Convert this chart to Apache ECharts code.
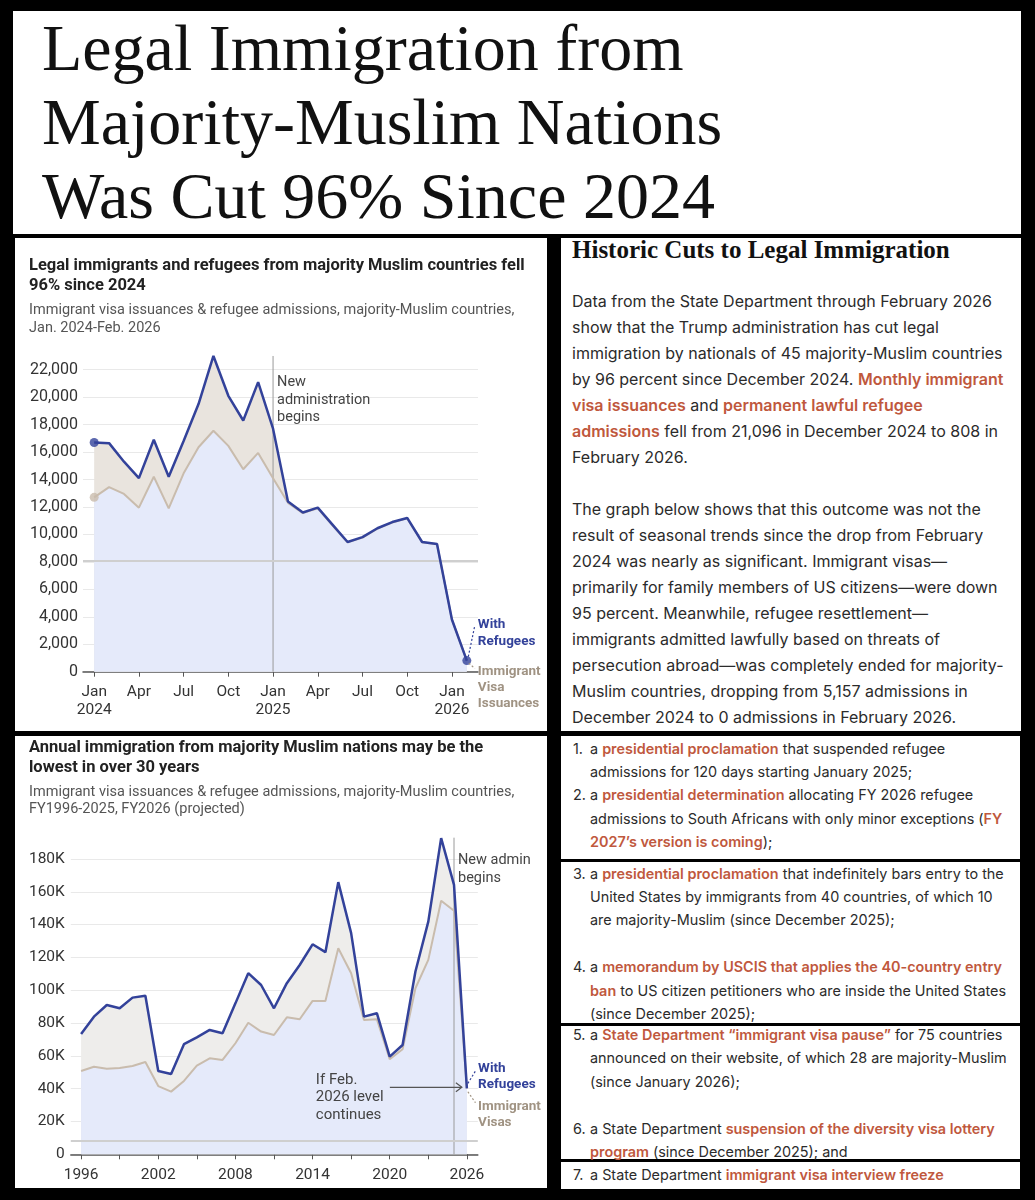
<!DOCTYPE html>
<html>
<head>
<meta charset="utf-8">
<script src="https://cdn.jsdelivr.net/npm/echarts@6.0.0/dist/echarts.min.js"></script>
<style>
  body { margin: 0; background: #000; width: 1035px; height: 1200px; position: relative; overflow: hidden; }
  .panel { position: absolute; background: #fff; }
  .abs { position: absolute; white-space: nowrap; }
  #headline { left: 42px; top: 11px; font-family: "Liberation Serif", serif; font-size: 66px; line-height: 74px; color: #111; }
  #side-h { left: 572px; top: 235px; font-family: "Liberation Serif", serif; font-weight: bold; font-size: 25px; line-height: 30px; color: #111; }
  .body { left: 572px; font-family: Inter, sans-serif; font-size: 16px; line-height: 26px; color: #2b2b2b; }
  .list { left: 573px; font-family: Inter, sans-serif; font-size: 14.4px; line-height: 23.4px; color: #2b2b2b; }
  .row { display: flex; }
  .num { width: 17px; }
  .r { color: #c0583d; font-weight: 600; }
</style>
</head>
<body>
<div class="panel" style="left:13px;top:11px;width:1008px;height:223px"></div>
<div class="panel" style="left:561px;top:238px;width:460px;height:493px"></div>
<div class="panel" style="left:561px;top:736px;width:459px;height:123px"></div>
<div class="panel" style="left:561px;top:862px;width:459px;height:161px"></div>
<div class="panel" style="left:561px;top:1026px;width:459px;height:133px"></div>
<div class="panel" style="left:561px;top:1162px;width:459px;height:27px"></div>
<div id="c1" class="panel" style="left:15px;top:238px;width:532px;height:493px"></div>
<div id="c2" class="panel" style="left:15px;top:736px;width:532px;height:452px"></div>

<div id="headline" class="abs">Legal Immigration from<br>Majority-Muslim Nations<br>Was Cut 96% Since 2024</div>

<div id="side-h" class="abs">Historic Cuts to Legal Immigration</div>
<div class="abs body" style="top:288px">Data from the State Department through February 2026<br>show that the Trump administration has cut legal<br>immigration by nationals of 45 majority-Muslim countries<br>by 96 percent since December 2024. <span class="r">Monthly immigrant</span><br><span class="r">visa issuances</span> and <span class="r">permanent lawful refugee</span><br><span class="r">admissions</span> fell from 21,096 in December 2024 to 808 in<br>February 2026.</div>
<div class="abs body" style="top:496px">The graph below shows that this outcome was not the<br>result of seasonal trends since the drop from February<br>2024 was nearly as significant. Immigrant visas—<br>primarily for family members of US citizens—were down<br>95 percent. Meanwhile, refugee resettlement—<br>immigrants admitted lawfully based on threats of<br>persecution abroad—was completely ended for majority-<br>Muslim countries, dropping from 5,157 admissions in<br>December 2024 to 0 admissions in February 2026.</div>

<div class="abs list" style="top:736.5px">
  <div class="row"><span class="num">1.</span><span>a <span class="r">presidential proclamation</span> that suspended refugee<br>admissions for 120 days starting January 2025;</span></div>
  <div class="row"><span class="num">2.</span><span>a <span class="r">presidential determination</span> allocating FY 2026 refugee<br>admissions to South Africans with only minor exceptions (<span class="r">FY</span><br><span class="r">2027’s version is coming</span>);</span></div>
</div>
<div class="abs list" style="top:861.5px">
  <div class="row"><span class="num">3.</span><span>a <span class="r">presidential proclamation</span> that indefinitely bars entry to the<br>United States by immigrants from 40 countries, of which 10<br>are majority-Muslim (since December 2025);<br>&nbsp;</span></div>
  <div class="row"><span class="num">4.</span><span>a <span class="r">memorandum by USCIS that applies the 40-country entry</span><br><span class="r">ban</span> to US citizen petitioners who are inside the United States<br>(since December 2025);</span></div>
</div>
<div class="abs list" style="top:1023px">
  <div class="row"><span class="num">5.</span><span>a <span class="r">State Department “immigrant visa pause”</span> for 75 countries<br>announced on their website, of which 28 are majority-Muslim<br>(since January 2026);<br>&nbsp;</span></div>
  <div class="row"><span class="num">6.</span><span>a State Department <span class="r">suspension of the diversity visa lottery</span><br><span class="r">program</span> (since December 2025); and</span></div>
</div>
<div class="abs list" style="top:1163px">
  <div class="row"><span class="num">7.</span><span>a State Department <span class="r">immigrant visa interview freeze</span></span></div>
</div>

<script>
// monthly, Jan 2024 .. Feb 2026
const monthTicks = ["Jan", "Apr", "Jul", "Oct"];
const firstYear = 2024;
const monthTickIdx = [0, 3, 6, 9, 12, 15, 18, 21, 24];
const monthlyWithRefugees = [16700, 16650, 15300, 14100, 16900, 14200, 16800, 19500, 23000, 20100, 18300, 21096,
  17700, 12400, 11600, 11950, 10700, 9450, 9800, 10450, 10900, 11200, 9450, 9300, 3800, 808];
const monthlyVisas = [12700, 13450, 12950, 11950, 14200, 11900, 14450, 16350, 17550, 16450, 14750, 15939,
  14100, 12300, 11550, 11900, 10650, 9420, 9770, 10420, 10870, 11170, 9430, 9280, 3790, 808];
const adminMonth = 12;
const adminTop1 = 23000;
const refLine = 8100;

// fiscal years 1996 .. 2026 (2026 projected)
const fyYears = [1996, 1997, 1998, 1999, 2000, 2001, 2002, 2003, 2004, 2005, 2006, 2007, 2008, 2009, 2010,
  2011, 2012, 2013, 2014, 2015, 2016, 2017, 2018, 2019, 2020, 2021, 2022, 2023, 2024, 2025, 2026];
const fyWithRefugees = [73400, 83900, 91000, 89000, 95500, 96600, 50800, 49000, 67100, 71300, 75800, 73800, 92000,
  110400, 103200, 89000, 104300, 115400, 128000, 123200, 165900, 134800, 83900, 86000, 59500, 66600, 111400,
  141800, 192700, 164200, 40200];
const fyVisas = [50800, 53400, 52200, 52600, 53800, 56300, 41600, 38200, 44700, 54000, 58500, 57500, 67700,
  80200, 74800, 72700, 83500, 82300, 93500, 93500, 125600, 110400, 81900, 82300, 57900, 64000, 101200,
  118500, 154600, 148500, 40200];
const yearTicks = [1996, 1999, 2002, 2005, 2008, 2011, 2014, 2017, 2020, 2023, 2026];
const yearLabels = [1996, 2002, 2008, 2014, 2020, 2026];
const adminYear = 2025;
const adminTop2 = 193000;

const BLUE = "#33429a";
const BEIGE = "#c9bcad";
const BEIGE_TXT = "#a09383";
const FONT = "Roboto";

function areaSeries(data, color, z) {
  return { type: "line", data: data, symbol: "none", clip: false, silent: true, z: z,
    lineStyle: { opacity: 0 }, areaStyle: { color: color, opacity: 1 } };
}

const refMark = {
  silent: true, symbol: "none", label: { show: false },
  lineStyle: { color: "#cfcfcf", width: 2, type: "solid" },
  data: [{ yAxis: refLine }],
};

function adminLine(chart, x, top) {
  const a = chart.convertToPixel({ gridIndex: 0 }, [x, 0]);
  const b = chart.convertToPixel({ gridIndex: 0 }, [x, top]);
  return { type: "line", z: 3, silent: true,
    shape: { x1: a[0], y1: a[1], x2: b[0], y2: b[1] },
    style: { stroke: "#9a9a9a", lineWidth: 1 } };
}

// ---------- chart 1 : monthly ----------
const c1 = echarts.init(document.getElementById("c1"));
const m1 = monthlyWithRefugees.map((v, i) => [i, v]);
const m2 = monthlyVisas.map((v, i) => [i, v]);
const last1 = m1.length - 1;

c1.setOption({
  animation: false,
  textStyle: { fontFamily: FONT },
  title: {
    left: 14, top: 18, padding: 0, itemGap: 5,
    text: "Legal immigrants and refugees from majority Muslim countries fell\n96% since 2024",
    subtext: "Immigrant visa issuances & refugee admissions, majority-Muslim countries,\nJan. 2024-Feb. 2026",
    textStyle: { fontFamily: FONT, fontSize: 16.5, fontWeight: "bold", color: "#222", lineHeight: 20 },
    subtextStyle: { fontFamily: FONT, fontSize: 14.5, color: "#555", lineHeight: 18 },
  },
  grid: { left: 68, top: 131.7, width: 395, height: 302 },
  xAxis: {
    type: "value", min: -0.75, max: 25.75,
    splitLine: { show: false },
    axisLine: { lineStyle: { color: "#555", width: 1.5 } },
    axisTick: { customValues: monthTickIdx, length: 5, lineStyle: { color: "#555" } },
    axisLabel: {
      customValues: monthTickIdx, margin: 11, fontSize: 15.5, lineHeight: 18, color: "#333",
      formatter: (v) => {
        const m = v % 12;
        const name = monthTicks[m / 3];
        return m === 0 ? name + "\n" + (firstYear + v / 12) : name;
      },
    },
  },
  yAxis: {
    type: "value", min: 0, max: 22000, interval: 2000,
    axisLine: { show: false }, axisTick: { show: false },
    splitLine: { lineStyle: { color: "#e9e9e9" } },
    axisLabel: { margin: 5, fontSize: 16, color: "#333", formatter: (v) => v.toLocaleString("en-US") },
  },
  series: [
    areaSeries(m1, "#e9e4de", 1),
    areaSeries(m2, "#e5eafa", 2),
    { type: "line", data: m2, symbol: "none", clip: false, z: 4,
      lineStyle: { color: BEIGE, width: 2 }, markLine: refMark },
    { type: "line", data: m1, symbol: "none", clip: false, z: 5,
      lineStyle: { color: BLUE, width: 2.5 } },
    { type: "scatter", z: 6, symbolSize: 9, itemStyle: { color: BEIGE }, data: [m2[0]] },
    { type: "scatter", z: 7, symbolSize: 9, itemStyle: { color: BLUE }, data: [m1[0], m1[last1]] },
  ],
});

{
  const pe = c1.convertToPixel({ gridIndex: 0 }, m1[last1]);
  const pt = c1.convertToPixel({ gridIndex: 0 }, [adminMonth, adminTop1]);
  c1.setOption({
    graphic: [
      adminLine(c1, adminMonth, adminTop1),
      { type: "text", z: 10, x: pt[0] + 4, y: pt[1] + 18,
        style: { text: "New\nadministration\nbegins", fill: "#444", fontFamily: FONT, fontSize: 14.5, lineHeight: 17.5, verticalAlign: "top" } },
      { type: "line", z: 10, shape: { x1: pe[0] + 1.5, y1: pe[1] - 4, x2: pe[0] + 8, y2: pe[1] - 35 },
        style: { stroke: BLUE, lineWidth: 1.2, lineDash: [2, 2] } },
      { type: "line", z: 10, shape: { x1: pe[0] + 2, y1: pe[1] + 2.5, x2: pe[0] + 8, y2: pe[1] + 8 },
        style: { stroke: BEIGE_TXT, lineWidth: 1.2, lineDash: [2, 2] } },
      { type: "text", z: 10, x: pe[0] + 11, y: pe[1] - 44,
        style: { text: "With\nRefugees", fill: BLUE, fontFamily: FONT, fontWeight: "bold", fontSize: 13.5, lineHeight: 16.7, verticalAlign: "top" } },
      { type: "text", z: 10, x: pe[0] + 11, y: pe[1] + 3,
        style: { text: "Immigrant\nVisa\nIssuances", fill: BEIGE_TXT, fontFamily: FONT, fontWeight: "bold", fontSize: 13.5, lineHeight: 16, verticalAlign: "top" } },
    ],
  });
}

// ---------- chart 2 : annual ----------
const c2 = echarts.init(document.getElementById("c2"));
const a1 = fyYears.map((y, i) => [y, fyWithRefugees[i]]);
const a2 = fyYears.map((y, i) => [y, fyVisas[i]]);
const last2 = a1.length - 1;

c2.setOption({
  animation: false,
  textStyle: { fontFamily: FONT },
  title: {
    left: 14, top: 2, padding: 0, itemGap: 6,
    text: "Annual immigration from majority Muslim nations may be the\nlowest in over 30 years",
    subtext: "Immigrant visa issuances & refugee admissions, majority-Muslim countries,\nFY1996-2025, FY2026 (projected)",
    textStyle: { fontFamily: FONT, fontSize: 16.5, fontWeight: "bold", color: "#222", lineHeight: 20 },
    subtextStyle: { fontFamily: FONT, fontSize: 14.5, color: "#555", lineHeight: 17 },
  },
  grid: { left: 55.8, top: 123, width: 407, height: 295.3 },
  xAxis: {
    type: "value", min: 1995.2, max: 2026.85,
    splitLine: { show: false },
    axisLine: { lineStyle: { color: "#555", width: 1.5 } },
    axisTick: { customValues: yearTicks, length: 5, lineStyle: { color: "#555" } },
    axisLabel: { customValues: yearLabels, margin: 12, fontSize: 15.5, lineHeight: 18, color: "#333", formatter: (v) => String(v) },
  },
  yAxis: {
    type: "value", min: 0, max: 180000, interval: 20000,
    axisLine: { show: false }, axisTick: { show: false },
    splitLine: { lineStyle: { color: "#e9e9e9" } },
    axisLabel: { margin: 6, fontSize: 15.5, color: "#333", formatter: (v) => (v === 0 ? "0" : v / 1000 + "K") },
  },
  series: [
    areaSeries(a1, "#eeedeb", 1),
    areaSeries(a2, "#e5eafa", 2),
    { type: "line", data: a2, symbol: "none", clip: false, z: 4,
      lineStyle: { color: BEIGE, width: 2 }, markLine: refMark },
    { type: "line", data: a1, symbol: "none", clip: false, z: 5,
      lineStyle: { color: BLUE, width: 2.5 } },
  ],
});

{
  const pe = c2.convertToPixel({ gridIndex: 0 }, a1[last2]);
  const pt = c2.convertToPixel({ gridIndex: 0 }, [adminYear, adminTop2]);
  const ay = pe[1] - 1;
  c2.setOption({
    graphic: [
      adminLine(c2, adminYear, adminTop2),
      { type: "text", z: 10, x: pt[0] + 4, y: pt[1] + 14,
        style: { text: "New admin\nbegins", fill: "#444", fontFamily: FONT, fontSize: 14.5, lineHeight: 18, verticalAlign: "top" } },
      { type: "text", z: 10, x: pe[0] - 151, y: pe[1] - 17,
        style: { text: "If Feb.\n2026 level\ncontinues", fill: "#444", fontFamily: FONT, fontSize: 15, lineHeight: 17.5, verticalAlign: "top" } },
      { type: "line", z: 10, shape: { x1: pe[0] - 77, y1: ay, x2: pe[0] - 5, y2: ay },
        style: { stroke: "#555", lineWidth: 1.2 } },
      { type: "polyline", z: 10, shape: { points: [[pe[0] - 11, ay - 4.5], [pe[0] - 5, ay], [pe[0] - 11, ay + 4.5]] },
        style: { stroke: "#555", lineWidth: 1.2, fill: null } },
      { type: "line", z: 10, shape: { x1: pe[0] + 1, y1: pe[1] - 5, x2: pe[0] + 8.6, y2: pe[1] - 17.3 },
        style: { stroke: BLUE, lineWidth: 1.2, lineDash: [2, 2] } },
      { type: "line", z: 10, shape: { x1: pe[0] + 1, y1: pe[1] + 3.4, x2: pe[0] + 8.6, y2: pe[1] + 14.4 },
        style: { stroke: BEIGE_TXT, lineWidth: 1.2, lineDash: [2, 2] } },
      { type: "text", z: 10, x: pe[0] + 11.2, y: pe[1] - 27.6,
        style: { text: "With\nRefugees", fill: BLUE, fontFamily: FONT, fontWeight: "bold", fontSize: 13.5, lineHeight: 16, verticalAlign: "top" } },
      { type: "text", z: 10, x: pe[0] + 11.2, y: pe[1] + 10.4,
        style: { text: "Immigrant\nVisas", fill: BEIGE_TXT, fontFamily: FONT, fontWeight: "bold", fontSize: 13.5, lineHeight: 16, verticalAlign: "top" } },
    ],
  });
}
</script>
</body>
</html>
